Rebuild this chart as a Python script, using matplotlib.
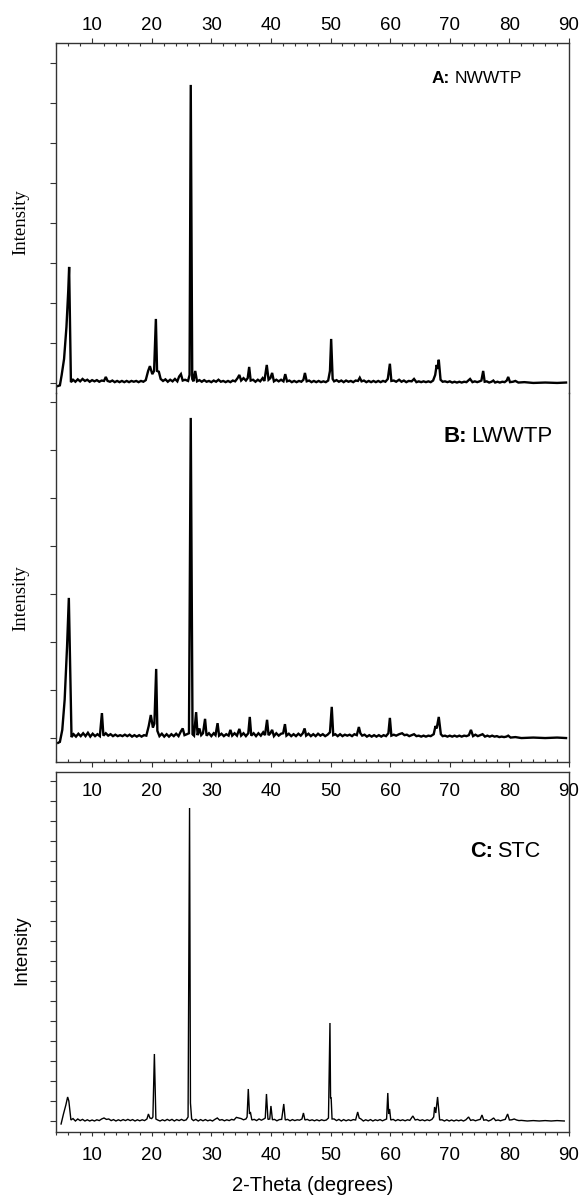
import matplotlib.pyplot as plt
from matplotlib.ticker import MultipleLocator, NullFormatter

# (2-theta, intensity) vertices of each diffractogram, intensity in y-tick units
a_pattern = [
    (4.2, -0.08), (4.6, -0.06), (4.9, 0.2), (5.3, 0.6), (5.7, 1.4), (6.0, 2.3), (6.15, 2.9),
    (6.45, 0.02), (6.8, 0.08), (7.2, 0.03), (7.6, 0.09), (8.0, 0.04), (8.4, 0.1), (8.8, 0.05),
    (9.2, 0.08), (9.6, 0.03), (10.0, 0.07), (10.4, 0.04), (10.8, 0.07), (11.2, 0.03),
    (11.6, 0.06), (12.0, 0.05), (12.3, 0.15), (12.6, 0.05), (13.0, 0.03), (13.4, 0.06),
    (13.8, 0.02), (14.2, 0.05), (14.6, 0.02), (15.0, 0.05), (15.4, 0.02), (15.8, 0.05),
    (16.2, 0.02), (16.6, 0.05), (17.0, 0.03), (17.4, 0.05), (17.8, 0.02), (18.2, 0.05),
    (18.6, 0.03), (19.0, 0.07), (19.4, 0.3), (19.7, 0.42), (20.1, 0.22), (20.4, 0.3),
    (20.7, 1.6), (20.9, 0.3), (21.2, 0.28), (21.5, 0.1), (21.9, 0.05), (22.3, 0.09),
    (22.7, 0.03), (23.1, 0.08), (23.5, 0.04), (23.9, 0.1), (24.3, 0.04), (24.6, 0.16),
    (24.9, 0.22), (25.2, 0.06), (25.6, 0.08), (26.1, 0.05), (26.35, 0.2), (26.55, 7.45),
    (26.8, 0.1), (27.0, 0.04), (27.3, 0.3), (27.6, 0.04), (28.0, 0.07), (28.4, 0.03),
    (28.8, 0.07), (29.2, 0.03), (29.6, 0.05), (30.0, 0.02), (30.4, 0.06), (30.8, 0.03),
    (31.2, 0.08), (31.6, 0.03), (32.0, 0.05), (32.4, 0.02), (32.8, 0.05), (33.2, 0.02),
    (33.6, 0.06), (34.0, 0.04), (34.4, 0.12), (34.7, 0.2), (35.0, 0.06), (35.4, 0.12),
    (35.8, 0.06), (36.1, 0.12), (36.35, 0.4), (36.6, 0.06), (37.0, 0.08), (37.4, 0.03),
    (37.8, 0.08), (38.2, 0.04), (38.6, 0.12), (38.9, 0.05), (39.3, 0.45), (39.6, 0.08),
    (39.9, 0.12), (40.2, 0.25), (40.5, 0.04), (40.9, 0.08), (41.3, 0.04), (41.7, 0.08),
    (42.1, 0.04), (42.4, 0.22), (42.7, 0.04), (43.1, 0.06), (43.5, 0.02), (43.9, 0.05),
    (44.3, 0.02), (44.7, 0.05), (45.1, 0.03), (45.45, 0.08), (45.7, 0.25), (46.0, 0.04),
    (46.4, 0.06), (46.8, 0.02), (47.2, 0.05), (47.6, 0.02), (48.0, 0.05), (48.4, 0.02),
    (48.8, 0.04), (49.2, 0.02), (49.6, 0.06), (49.9, 0.3), (50.1, 1.1), (50.35, 0.1),
    (50.6, 0.04), (51.0, 0.07), (51.4, 0.03), (51.8, 0.06), (52.2, 0.02), (52.6, 0.06),
    (53.0, 0.03), (53.4, 0.05), (53.8, 0.02), (54.2, 0.06), (54.6, 0.05), (54.9, 0.13),
    (55.2, 0.04), (55.6, 0.06), (56.0, 0.02), (56.4, 0.05), (56.8, 0.02), (57.2, 0.05),
    (57.6, 0.02), (58.0, 0.05), (58.4, 0.02), (58.8, 0.05), (59.2, 0.03), (59.6, 0.1),
    (59.95, 0.48), (60.2, 0.05), (60.6, 0.06), (61.0, 0.03), (61.5, 0.08), (61.9, 0.03),
    (62.3, 0.06), (62.7, 0.02), (63.1, 0.05), (63.6, 0.04), (64.0, 0.1), (64.4, 0.02),
    (64.8, 0.04), (65.2, 0.02), (65.6, 0.04), (66.0, 0.02), (66.4, 0.04), (66.8, 0.02),
    (67.2, 0.06), (67.55, 0.2), (67.8, 0.45), (67.95, 0.35), (68.15, 0.58), (68.45, 0.08),
    (68.8, 0.03), (69.2, 0.04), (69.6, 0.02), (70.0, 0.04), (70.4, 0.01), (70.8, 0.03),
    (71.2, 0.01), (71.6, 0.03), (72.0, 0.01), (72.4, 0.03), (72.8, 0.02), (73.4, 0.1),
    (73.8, 0.02), (74.2, 0.04), (74.6, 0.02), (75.0, 0.04), (75.3, 0.06), (75.6, 0.3),
    (75.85, 0.03), (76.2, 0.04), (76.6, 0.01), (77.0, 0.03), (77.3, 0.06), (77.6, 0.01),
    (78.0, 0.03), (78.4, 0.01), (78.8, 0.03), (79.2, 0.02), (79.55, 0.06), (79.8, 0.15),
    (80.1, 0.02), (80.6, 0.03), (81.0, 0.05), (81.5, 0.01), (82.5, 0.02), (84.0, 0.0),
    (86.0, 0.01), (88.0, 0.0), (89.5, 0.01),
]

b_pattern = [
    (4.3, -0.1), (4.6, -0.08), (5.0, 0.17), (5.4, 0.8), (5.8, 1.9), (6.1, 2.92), (6.55, 0.02),
    (6.9, 0.08), (7.3, 0.03), (7.7, 0.09), (8.1, 0.04), (8.5, 0.1), (8.9, 0.04), (9.3, 0.11),
    (9.7, 0.03), (10.1, 0.09), (10.5, 0.04), (10.9, 0.08), (11.3, 0.04), (11.65, 0.52),
    (11.9, 0.05), (12.3, 0.1), (12.7, 0.05), (13.1, 0.08), (13.5, 0.04), (13.9, 0.07),
    (14.3, 0.04), (14.7, 0.06), (15.1, 0.04), (15.5, 0.07), (15.9, 0.04), (16.3, 0.07),
    (16.7, 0.03), (17.1, 0.06), (17.5, 0.03), (17.9, 0.06), (18.3, 0.03), (18.7, 0.06),
    (19.1, 0.05), (19.5, 0.25), (19.85, 0.48), (20.2, 0.22), (20.45, 0.3), (20.75, 1.44),
    (20.95, 0.15), (21.3, 0.04), (21.7, 0.09), (22.1, 0.03), (22.5, 0.08), (22.9, 0.03),
    (23.3, 0.08), (23.7, 0.04), (24.1, 0.09), (24.5, 0.04), (24.9, 0.14), (25.2, 0.2),
    (25.5, 0.06), (25.9, 0.08), (26.25, 0.1), (26.55, 6.67), (26.85, 0.08), (27.1, 0.05),
    (27.45, 0.54), (27.7, 0.06), (28.0, 0.2), (28.3, 0.06), (28.6, 0.1), (28.95, 0.4),
    (29.2, 0.05), (29.6, 0.1), (30.0, 0.04), (30.4, 0.1), (30.7, 0.06), (31.05, 0.31),
    (31.3, 0.05), (31.7, 0.09), (32.1, 0.04), (32.5, 0.08), (32.9, 0.05), (33.2, 0.17),
    (33.5, 0.05), (33.9, 0.1), (34.3, 0.05), (34.7, 0.19), (35.0, 0.05), (35.4, 0.1),
    (35.8, 0.04), (36.2, 0.1), (36.45, 0.44), (36.7, 0.05), (37.1, 0.1), (37.5, 0.04),
    (37.9, 0.1), (38.3, 0.05), (38.7, 0.12), (39.0, 0.06), (39.35, 0.38), (39.6, 0.06),
    (39.9, 0.1), (40.2, 0.17), (40.5, 0.04), (40.9, 0.1), (41.3, 0.05), (41.7, 0.09),
    (42.05, 0.1), (42.35, 0.29), (42.6, 0.05), (43.0, 0.09), (43.4, 0.04), (43.8, 0.08),
    (44.2, 0.04), (44.6, 0.09), (45.0, 0.05), (45.35, 0.1), (45.65, 0.2), (45.9, 0.05),
    (46.3, 0.09), (46.7, 0.04), (47.1, 0.08), (47.5, 0.04), (47.9, 0.09), (48.3, 0.05),
    (48.7, 0.08), (49.1, 0.04), (49.5, 0.07), (49.9, 0.12), (50.2, 0.65), (50.45, 0.06),
    (50.8, 0.08), (51.2, 0.04), (51.6, 0.08), (52.0, 0.04), (52.4, 0.07), (52.8, 0.05),
    (53.2, 0.07), (53.6, 0.04), (54.0, 0.08), (54.4, 0.06), (54.75, 0.23), (55.0, 0.1),
    (55.3, 0.05), (55.7, 0.07), (56.1, 0.03), (56.5, 0.06), (56.9, 0.03), (57.3, 0.06),
    (57.7, 0.03), (58.1, 0.06), (58.5, 0.03), (58.9, 0.06), (59.3, 0.04), (59.7, 0.1),
    (59.95, 0.42), (60.2, 0.05), (60.6, 0.07), (61.0, 0.05), (61.5, 0.08), (62.0, 0.1),
    (62.4, 0.06), (62.8, 0.07), (63.2, 0.04), (63.6, 0.06), (64.0, 0.08), (64.4, 0.04),
    (64.8, 0.05), (65.2, 0.03), (65.6, 0.05), (66.0, 0.03), (66.4, 0.05), (66.8, 0.04),
    (67.3, 0.08), (67.6, 0.25), (67.8, 0.2), (68.15, 0.44), (68.5, 0.08), (68.8, 0.04),
    (69.2, 0.05), (69.6, 0.03), (70.0, 0.05), (70.4, 0.03), (70.8, 0.05), (71.2, 0.03),
    (71.6, 0.05), (72.0, 0.03), (72.4, 0.05), (72.8, 0.04), (73.2, 0.06), (73.55, 0.17),
    (73.9, 0.04), (74.3, 0.07), (74.7, 0.04), (75.1, 0.06), (75.5, 0.08), (75.9, 0.03),
    (76.3, 0.05), (76.7, 0.03), (77.1, 0.05), (77.5, 0.03), (77.9, 0.04), (78.3, 0.02),
    (78.7, 0.03), (79.1, 0.02), (79.5, 0.03), (79.8, 0.05), (80.2, 0.01), (81.0, 0.02),
    (82.0, 0.0), (84.0, 0.01), (86.0, 0.0), (88.0, 0.01), (89.5, 0.0),
]

c_pattern = [
    (4.8, -0.15), (5.2, 0.35), (5.6, 0.8), (5.9, 1.2), (6.1, 1.0), (6.45, 0.05), (6.8, 0.12),
    (7.2, 0.0), (7.6, 0.1), (8.0, 0.02), (8.4, 0.08), (8.8, 0.0), (9.2, 0.06), (9.6, 0.0),
    (10.0, 0.05), (10.4, 0.0), (10.8, 0.06), (11.2, 0.02), (11.6, 0.1), (12.0, 0.15),
    (12.4, 0.08), (12.8, 0.1), (13.2, 0.02), (13.6, 0.07), (14.0, 0.0), (14.4, 0.06),
    (14.8, 0.01), (15.2, 0.07), (15.6, 0.02), (16.0, 0.08), (16.4, 0.02), (16.8, 0.07),
    (17.2, 0.0), (17.6, 0.06), (18.0, 0.01), (18.4, 0.06), (18.8, 0.02), (19.2, 0.1),
    (19.45, 0.35), (19.7, 0.15), (20.0, 0.12), (20.2, 0.2), (20.45, 3.35), (20.7, 0.1),
    (21.0, 0.05), (21.4, 0.0), (21.8, 0.06), (22.2, 0.01), (22.6, 0.08), (23.0, 0.02),
    (23.4, 0.08), (23.8, 0.0), (24.2, 0.07), (24.6, 0.02), (25.0, 0.08), (25.4, 0.02),
    (25.8, 0.06), (26.1, 0.2), (26.35, 15.65), (26.5, 0.9), (26.7, 0.1), (27.0, 0.02),
    (27.4, 0.08), (27.8, 0.0), (28.2, 0.07), (28.6, 0.01), (29.0, 0.07), (29.4, 0.01),
    (29.8, 0.05), (30.2, 0.0), (30.6, 0.08), (31.0, 0.15), (31.4, 0.04), (31.8, 0.07),
    (32.2, 0.01), (32.6, 0.06), (33.0, 0.02), (33.4, 0.08), (33.8, 0.05), (34.2, 0.18),
    (34.6, 0.15), (35.0, 0.12), (35.4, 0.06), (35.8, 0.1), (36.0, 0.2), (36.2, 1.6),
    (36.4, 0.35), (36.55, 0.45), (36.8, 0.05), (37.2, 0.08), (37.6, 0.02), (38.0, 0.1),
    (38.4, 0.04), (38.8, 0.1), (39.05, 0.15), (39.25, 1.35), (39.5, 0.08), (39.8, 0.1),
    (40.0, 0.75), (40.25, 0.06), (40.6, 0.08), (41.0, 0.01), (41.4, 0.07), (41.8, 0.08),
    (42.15, 0.85), (42.4, 0.05), (42.8, 0.08), (43.2, 0.01), (43.6, 0.07), (44.0, 0.02),
    (44.4, 0.06), (44.8, 0.04), (45.2, 0.1), (45.45, 0.4), (45.7, 0.05), (46.1, 0.08),
    (46.5, 0.02), (46.9, 0.06), (47.3, 0.01), (47.7, 0.06), (48.1, 0.01), (48.5, 0.06),
    (48.9, 0.02), (49.3, 0.05), (49.65, 0.15), (49.9, 4.9), (50.0, 1.15), (50.1, 1.15),
    (50.25, 0.1), (50.6, 0.1), (51.0, 0.02), (51.4, 0.08), (51.8, 0.0), (52.2, 0.07),
    (52.6, 0.01), (53.0, 0.06), (53.4, 0.02), (53.8, 0.07), (54.2, 0.05), (54.55, 0.45),
    (54.8, 0.15), (55.1, 0.1), (55.5, 0.0), (55.9, 0.06), (56.3, 0.01), (56.7, 0.07),
    (57.1, 0.0), (57.5, 0.06), (57.9, 0.02), (58.3, 0.07), (58.7, 0.01), (59.1, 0.06),
    (59.4, 0.1), (59.6, 1.4), (59.75, 0.35), (59.9, 0.6), (60.1, 0.05), (60.5, 0.08),
    (60.9, 0.01), (61.3, 0.07), (61.7, 0.02), (62.1, 0.06), (62.5, 0.01), (62.9, 0.06),
    (63.3, 0.03), (63.8, 0.25), (64.2, 0.05), (64.6, 0.08), (65.0, 0.02), (65.4, 0.06),
    (65.8, 0.01), (66.2, 0.06), (66.6, 0.02), (67.0, 0.08), (67.3, 0.2), (67.45, 0.7),
    (67.65, 0.4), (67.95, 1.2), (68.3, 0.05), (68.7, 0.06), (69.1, 0.0), (69.5, 0.06),
    (69.9, 0.0), (70.3, 0.05), (70.7, 0.0), (71.1, 0.05), (71.5, 0.01), (71.9, 0.05),
    (72.3, 0.0), (72.7, 0.06), (73.15, 0.2), (73.5, 0.03), (73.9, 0.06), (74.3, 0.01),
    (74.7, 0.05), (75.1, 0.08), (75.4, 0.3), (75.7, 0.04), (76.1, 0.06), (76.5, 0.0),
    (76.9, 0.05), (77.35, 0.15), (77.7, 0.02), (78.1, 0.05), (78.5, 0.01), (78.9, 0.05),
    (79.3, 0.08), (79.7, 0.35), (80.0, 0.05), (80.4, 0.06), (80.8, 0.1), (81.2, 0.05),
    (81.6, 0.02), (82.0, 0.03), (83.0, 0.0), (84.0, 0.02), (85.0, 0.0), (86.0, 0.02),
    (87.0, 0.0), (88.0, 0.02), (89.2, 0.0),
]

panel_tags = ["A:", "B:", "C:"]
panel_names = ["NWWTP", "LWWTP", "STC"]
major_ticks = list(range(10, 100, 10))

fig = plt.figure(figsize=(5.81, 11.98), dpi=100)
left, width = 0.0959, 0.8835
ax_a = fig.add_axes([left, 0.6720, width, 0.2922])
ax_b = fig.add_axes([left, 0.3639, width, 0.3080])
ax_c = fig.add_axes([left, 0.0551, width, 0.3005])
axes = (ax_a, ax_b, ax_c)

spine_col = "#333333"
for ax in axes:
    ax.set_xlim(3.9, 90)
    ax.set_xticks(major_ticks)
    ax.xaxis.set_minor_locator(MultipleLocator(2))
    ax.yaxis.set_major_locator(MultipleLocator(1))
    ax.yaxis.set_major_formatter(NullFormatter())
    ax.tick_params(axis="y", direction="out", length=4, width=0.8, color=spine_col)
    for s in ax.spines.values():
        s.set_linewidth(1.0)
        s.set_color(spine_col)
    ax.set_facecolor("none")

ax_a.set_ylim(-0.25, 8.5)
ax_b.set_ylim(-0.5, 7.1875)
ax_c.set_ylim(-0.55, 17.45)

# A and B sit in one frame, no divider between them
ax_a.spines["bottom"].set_visible(False)
ax_b.spines["top"].set_visible(False)

ax_a.xaxis.set_ticks_position("top")
ax_a.tick_params(axis="x", which="major", direction="out", length=3.6, width=0.8,
                 labelsize=13.5, pad=3, color=spine_col)
ax_a.tick_params(axis="x", which="minor", direction="in", length=2.2, width=0.8, color=spine_col)

ax_b.xaxis.set_ticks_position("bottom")
ax_b.tick_params(axis="x", which="major", direction="out", length=3.6, width=0.8,
                 labelsize=13.5, pad=11.5, color=spine_col)
ax_b.tick_params(axis="x", which="minor", direction="in", length=2.2, width=0.8, color=spine_col)

ax_c.xaxis.set_ticks_position("bottom")
ax_c.tick_params(axis="x", which="major", direction="out", length=2.8, width=0.8,
                 labelsize=13.5, pad=8.3, color=spine_col)
ax_c.tick_params(axis="x", which="minor", direction="out", length=2.5, width=0.8, color=spine_col)

for ax, pattern, lw in ((ax_a, a_pattern, 1.7), (ax_b, b_pattern, 1.7), (ax_c, c_pattern, 1.0)):
    theta, intensity = zip(*pattern)
    ax.plot(theta, intensity, color="black", lw=lw, solid_joinstyle="miter")

# y labels: serif on the upper two panels, sans on the bottom one
fig.text(20.5 / 581, 1 - 222 / 1198, "Intensity", rotation=90, ha="center", va="center",
         family="Liberation Serif", fontsize=13.5)
fig.text(20.5 / 581, 1 - 598 / 1198, "Intensity", rotation=90, ha="center", va="center",
         family="Liberation Serif", fontsize=13.5)
fig.text(22 / 581, 1 - 950 / 1198, "Intensity", rotation=90, ha="center", va="center",
         family="Liberation Sans", fontsize=13.5)

ax_c.set_xlabel("2-Theta (degrees)", fontsize=14.5, family="Liberation Sans", labelpad=8)

label_spots = [(0.733, 0.886, 12.5), (0.755, 0.867, 16), (0.807, 0.764, 15.6)]
for ax, tag, name, (x0, y0, fs) in zip(axes, panel_tags, panel_names, label_spots):
    t = ax.text(x0, y0, tag, transform=ax.transAxes, fontsize=fs, fontweight="bold",
                family="Liberation Sans", va="baseline")
    ax.annotate(name, xy=(1, 0), xycoords=t, xytext=(3, 0), textcoords="offset points",
                fontsize=fs, family="Liberation Sans", va="bottom")

for ax in axes:
    for lbl in ax.get_xticklabels():
        lbl.set_family("Liberation Sans")

fig.savefig("out.png", dpi=100)
